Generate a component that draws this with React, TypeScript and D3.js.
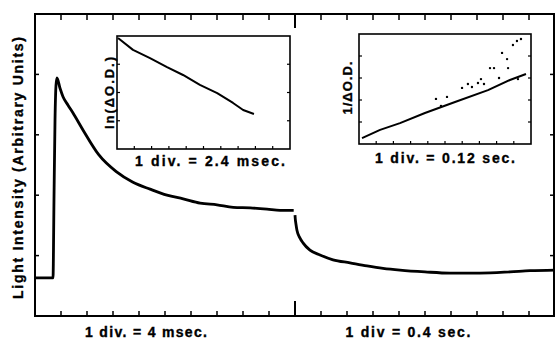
import React from "react";
import * as d3 from "d3";

// Main trace, left half: time in msec, light intensity in divisions
const leftTimeMs = [0, 2.77, 2.92, 3.08, 3.23, 3.38, 3.85, 4.31, 5.08, 5.85, 7.38, 9.8, 12.5, 15.0, 17.7, 20.3, 22.8, 25.4, 28.0, 30.5, 33.1, 35.7, 37.7, 39.8];
const leftIntensity = [0.63, 0.63, 1.92, 3.25, 3.82, 3.94, 3.77, 3.63, 3.49, 3.36, 3.08, 2.67, 2.39, 2.22, 2.10, 2.0, 1.94, 1.87, 1.84, 1.80, 1.79, 1.77, 1.75, 1.75];

// Main trace, right half: time in sec
const rightTimeS = [0, 0.005, 0.015, 0.03, 0.077, 0.123, 0.23, 0.385, 0.585, 0.846, 1.108, 1.354, 1.615, 2.0, 2.385, 2.846, 3.308, 3.615, 4.0];
const rightIntensity = [1.67, 1.6, 1.52, 1.42, 1.29, 1.21, 1.09, 1.01, 0.93, 0.88, 0.83, 0.79, 0.76, 0.73, 0.71, 0.71, 0.73, 0.75, 0.76];

// Inset 1: ln(ΔO.D.) vs time (msec)
const inset1TimeMs = [0.14, 2.22, 4.58, 6.94, 9.16, 11.5, 13.9, 16.1, 17.5, 19.0];
const inset1LnOD = [3.93, 3.51, 3.22, 2.9, 2.62, 2.27, 1.98, 1.63, 1.38, 1.24];

// Inset 2: 1/ΔO.D. vs time (sec), line + scattered points
const inset2TimeS = [0.021, 0.147, 0.286, 0.46, 0.67, 0.9, 1.053, 1.165];
const inset2InvOD = [0.27, 0.64, 0.95, 1.41, 1.91, 2.45, 2.91, 3.18];
const inset2DotTimeS = [0.537, 0.614, 0.572, 0.719, 0.76, 0.788, 0.83, 0.851, 0.872, 0.914, 0.942, 0.977, 0.998, 1.033, 1.04, 1.074, 1.102, 1.13, 1.109];
const inset2DotInvOD = [2.05, 2.14, 1.73, 2.55, 2.73, 2.59, 2.77, 2.95, 2.73, 3.45, 3.45, 3.0, 4.14, 3.86, 3.45, 4.5, 4.68, 4.77, 2.95];

const divisions = d3.range(0, 11);

const FONT = "'Liberation Sans', Arial, Helvetica, sans-serif";

export default function App() {
  const W = 556;
  const H = 340;
  // main frame
  const L = 35, R = 554, T = 14, B = 316, MID = 295;
  const xL = d3.scaleLinear().domain([0, 40]).range([L, MID]);
  const xR = d3.scaleLinear().domain([0, 4]).range([MID, 555]);
  const y = d3.scaleLinear().domain([0, 5]).range([B, T]);

  const leftData = leftTimeMs.map((t, i) => [t, leftIntensity[i]] as [number, number]);
  const rightData = rightTimeS.map((t, i) => [t, rightIntensity[i]] as [number, number]);

  const leftLine = d3.line<[number, number]>().x(d => xL(d[0])).y(d => y(d[1])).curve(d3.curveMonotoneX);
  const rightLine = d3.line<[number, number]>().x(d => xR(d[0])).y(d => y(d[1])).curve(d3.curveMonotoneX);

  // inset 1
  const i1 = { l: 117, r: 290, t: 36, b: 149 };
  const x1 = d3.scaleLinear().domain([0, 24]).range([i1.l, i1.r]);
  const y1 = d3.scaleLinear().domain([0, 4]).range([i1.b, i1.t]);
  const i1Data = inset1TimeMs.map((t, i) => [t, inset1LnOD[i]] as [number, number]);
  const i1Line = d3.line<[number, number]>().x(d => x1(d[0])).y(d => y1(d[1]));

  // inset 2
  const i2 = { l: 359, r: 531, t: 34, b: 144 };
  const x2 = d3.scaleLinear().domain([0, 1.2]).range([i2.l, i2.r]);
  const y2 = d3.scaleLinear().domain([0, 5]).range([i2.b, i2.t]);
  const i2Data = inset2TimeS.map((t, i) => [t, inset2InvOD[i]] as [number, number]);
  const i2Line = d3.line<[number, number]>().x(d => x2(d[0])).y(d => y2(d[1]));

  const mainXTicks = [
    ...divisions.slice(1, 10).map(d => xL(d * 4)),
    ...divisions.slice(1, 10).map(d => xR(d * 0.4)),
  ];
  const yTicks = [1, 2, 3, 4].map(v => y(v));

  const txt = { fontFamily: FONT, fontWeight: "bold" as const, stroke: "#000", strokeWidth: 0.35 };

  return (
    <svg width={W} height={H} style={{ position: "absolute", left: 0, top: 0, background: "#fff" }}>
      <rect x={0} y={0} width={W} height={H} fill="#fff" />
      {/* main frame */}
      <rect x={L} y={T} width={R - L} height={B - T} fill="none" stroke="#000" strokeWidth={2} />
      {mainXTicks.map((x, i) => (
        <g key={"xt" + i}>
          <line x1={x} x2={x} y1={B} y2={B - 5} stroke="#000" strokeWidth={1.5} />
          <line x1={x} x2={x} y1={T} y2={T + 6} stroke="#000" strokeWidth={1.5} />
        </g>
      ))}
      <line x1={MID} x2={MID} y1={B} y2={B - 15} stroke="#000" strokeWidth={2} />
      <line x1={MID} x2={MID} y1={T} y2={T + 14} stroke="#000" strokeWidth={2} />
      {yTicks.map((yy, i) => (
        <g key={"yt" + i}>
          <line x1={L} x2={L + 4} y1={yy} y2={yy} stroke="#000" strokeWidth={1.5} />
          <line x1={R} x2={R - 4} y1={yy} y2={yy} stroke="#000" strokeWidth={1.5} />
        </g>
      ))}
      {/* main trace */}
      <path d={leftLine(leftData) || ""} fill="none" stroke="#000" strokeWidth={2.8} strokeLinejoin="round" />
      <path d={rightLine(rightData) || ""} fill="none" stroke="#000" strokeWidth={2.8} strokeLinejoin="round" />

      {/* y label */}
      <text
        transform={`translate(23,168) rotate(-90)`}
        textAnchor="middle"
        {...txt}
        fontSize={14}
        textLength={262}
        lengthAdjust="spacing"
      >
        Light Intensity (Arbitrary Units)
      </text>
      <text x={146} y={337} textAnchor="middle" {...txt} fontSize={14} textLength={122} lengthAdjust="spacing">
        1 div. = 4 msec.
      </text>
      <text x={408} y={337} textAnchor="middle" {...txt} fontSize={14} textLength={125} lengthAdjust="spacing">
        1 div = 0.4 sec.
      </text>

      {/* inset 1 */}
      <rect x={i1.l} y={i1.t} width={i1.r - i1.l} height={i1.b - i1.t} fill="#fff" stroke="#000" strokeWidth={1.6} />
      {divisions.slice(1, 10).map(d => (
        <line key={"i1x" + d} x1={x1(d * 2.4)} x2={x1(d * 2.4)} y1={i1.b} y2={i1.b - 3} stroke="#000" strokeWidth={1.2} />
      ))}
      {[1, 2, 3].map(v => (
        <g key={"i1y" + v}>
          <line x1={i1.l} x2={i1.l + 3} y1={y1(v)} y2={y1(v)} stroke="#000" strokeWidth={1.2} />
          <line x1={i1.r} x2={i1.r - 3} y1={y1(v)} y2={y1(v)} stroke="#000" strokeWidth={1.2} />
        </g>
      ))}
      <path d={i1Line(i1Data) || ""} fill="none" stroke="#000" strokeWidth={2} strokeLinejoin="round" />
      <text transform={`translate(114,93) rotate(-90)`} textAnchor="middle" {...txt} fontSize={13} textLength={72} lengthAdjust="spacing">
        ln(ΔO.D.)
      </text>
      <text x={210} y={166} textAnchor="middle" {...txt} fontSize={14} textLength={150} lengthAdjust="spacing">
        1 div. = 2.4 msec.
      </text>

      {/* inset 2 */}
      <rect x={i2.l} y={i2.t} width={i2.r - i2.l} height={i2.b - i2.t} fill="#fff" stroke="#000" strokeWidth={1.6} />
      {divisions.slice(1, 10).map(d => (
        <line key={"i2x" + d} x1={x2(d * 0.12)} x2={x2(d * 0.12)} y1={i2.b} y2={i2.b - 3} stroke="#000" strokeWidth={1.2} />
      ))}
      {[1, 2, 3, 4].map(v => (
        <g key={"i2y" + v}>
          <line x1={i2.l} x2={i2.l + 3} y1={y2(v)} y2={y2(v)} stroke="#000" strokeWidth={1.2} />
          <line x1={i2.r} x2={i2.r - 3} y1={y2(v)} y2={y2(v)} stroke="#000" strokeWidth={1.2} />
        </g>
      ))}
      <path d={i2Line(i2Data) || ""} fill="none" stroke="#000" strokeWidth={2} strokeLinejoin="round" />
      {inset2DotTimeS.map((t, i) => (
        <circle key={"dot" + i} cx={x2(t)} cy={y2(inset2DotInvOD[i])} r={1.2} fill="#000" />
      ))}
      <text transform={`translate(352,88) rotate(-90)`} textAnchor="middle" {...txt} fontSize={13} textLength={53} lengthAdjust="spacing">
        1/ΔO.D.
      </text>
      <text x={445} y={163} textAnchor="middle" {...txt} fontSize={14} textLength={140} lengthAdjust="spacing">
        1 div. = 0.12 sec.
      </text>
    </svg>
  );
}
